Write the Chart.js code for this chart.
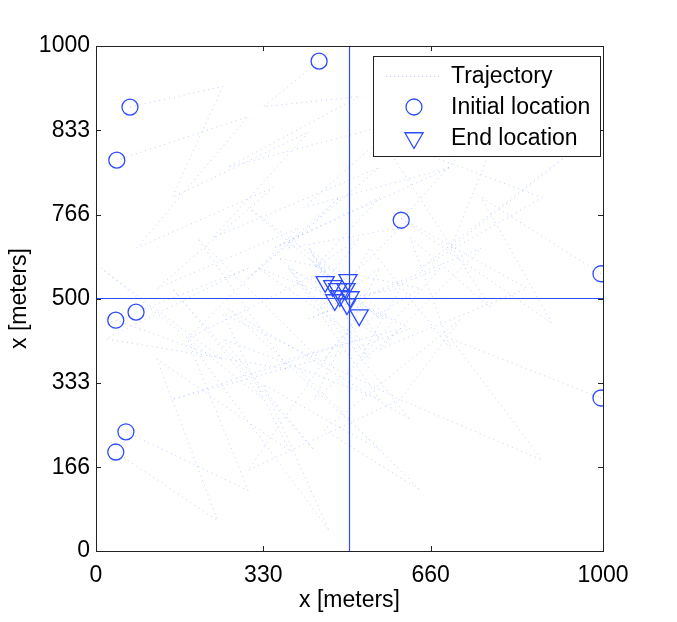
<!DOCTYPE html>
<html>
<head>
<meta charset="utf-8">
<script src="https://cdn.jsdelivr.net/npm/chart.js@4.4.0/dist/chart.umd.min.js"></script>
<style>
  html, body { margin: 0; padding: 0; background: #fff; }
  #wrap { width: 677px; height: 622px; }
</style>
</head>
<body>
<div id="wrap"><canvas id="grafico" width="677" height="622"></canvas></div>
<script>
// Ejes y marcas
const xTickValues = [0, 330, 660, 1000];
const yTickValues = [0, 166, 333, 500, 666, 833, 1000];
const yTickLabels = ['0', '166', '333', '500', '766', '833', '1000'];
const centro = [500, 500];

// Posiciones iniciales (circulos)
const inicialX = [440, 67, 41, 602, 996, 79, 39, 996, 59, 39];
const inicialY = [970, 879, 774, 655, 549, 473, 457, 303, 236, 196];

// Posiciones finales (triangulos)
const finalX = [452, 497, 477, 493, 471, 495, 519, 481, 467, 501];
const finalY = [533, 537, 519, 519, 497, 489, 467, 505, 525, 503];

// Trayectorias (puntos de paso estimados)
const trayX = [
    [440, 330, 520, 260, 600, 410, 700, 350, 560, 430, 520, 452],
    [67, 250, 150, 420, 230, 560, 300, 480, 380, 600, 440, 497],
    [41, 300, 80, 350, 120, 400, 180, 460, 300, 560, 420, 477],
    [602, 820, 700, 950, 640, 880, 560, 780, 620, 700, 540, 493],
    [996, 760, 900, 600, 850, 560, 760, 420, 680, 520, 600, 471],
    [79, 300, 20, 380, 200, 440, 150, 520, 320, 580, 420, 495],
    [39, 250, 10, 330, 150, 430, 250, 560, 380, 620, 450, 519],
    [996, 700, 880, 600, 720, 450, 640, 380, 600, 430, 560, 481],
    [59, 300, 180, 460, 330, 560, 260, 620, 380, 540, 420, 467],
    [39, 240, 120, 380, 250, 600, 300, 480, 640, 360, 560, 501]
];
const trayY = [
    [970, 880, 900, 760, 850, 680, 760, 600, 700, 560, 620, 533],
    [879, 920, 700, 830, 620, 760, 540, 700, 600, 640, 480, 537],
    [774, 860, 600, 720, 520, 640, 420, 560, 680, 460, 580, 519],
    [655, 900, 600, 800, 560, 700, 820, 480, 620, 400, 600, 519],
    [549, 700, 450, 660, 520, 400, 600, 460, 560, 380, 520, 497],
    [473, 560, 420, 360, 620, 380, 300, 420, 560, 460, 600, 489],
    [457, 380, 560, 300, 520, 200, 420, 300, 560, 440, 380, 467],
    [303, 420, 180, 300, 460, 240, 120, 380, 440, 300, 560, 505],
    [236, 120, 420, 40, 330, 200, 480, 260, 560, 380, 600, 525],
    [196, 60, 380, 200, 470, 300, 160, 420, 520, 580, 420, 503]
];

const azul = 'rgb(45,75,255)';
const azulClaro = 'rgba(140,170,255,0.55)';
const fuente = 'Liberation Sans, Arial, sans-serif';
const tam = 23;

function pares(xs, ys) {
    return xs.map(function(x, i){ return { x: x, y: ys[i] }; });
}

const datasets = [];
datasets.push({
    label: 'End location',
    data: pares(finalX, finalY),
    pointStyle: 'triangle',
    rotation: 180,
    pointRadius: 10.5,
    borderColor: azul,
    backgroundColor: 'rgba(0,0,0,0)',
    pointBorderWidth: 1.3,
    showLine: false,
    order: 0
});
datasets.push({
    label: 'Initial location',
    data: pares(inicialX, inicialY),
    pointStyle: 'circle',
    pointRadius: 8,
    borderColor: azul,
    backgroundColor: 'rgba(0,0,0,0)',
    pointBorderWidth: 1.3,
    showLine: false,
    order: 1
});
datasets.push({
    label: 'cruz-v',
    data: [{ x: centro[0], y: 0 }, { x: centro[0], y: 1000 }],
    showLine: true, pointRadius: 0, borderColor: azul, borderWidth: 1.2, order: 2
});
datasets.push({
    label: 'cruz-h',
    data: [{ x: 0, y: centro[1] }, { x: 1000, y: centro[1] }],
    showLine: true, pointRadius: 0, borderColor: azul, borderWidth: 1.2, order: 2
});
for (let i = 0; i < trayX.length; i++) {
    datasets.push({
        label: 'Trajectory',
        data: pares(trayX[i], trayY[i]),
        showLine: true,
        pointRadius: 0,
        borderColor: azulClaro,
        borderWidth: 1,
        borderDash: [1, 4],
        order: 3
    });
}

// Marco, marcas hacia adentro y leyenda al estilo MATLAB
const marcoPlugin = {
    id: 'marco',
    afterDatasetsDraw(chart) {
        const ctx = chart.ctx;
        const a = chart.chartArea;
        const sx = chart.scales.x, sy = chart.scales.y;
        ctx.save();
        ctx.strokeStyle = '#222';
        ctx.lineWidth = 1;
        ctx.strokeRect(Math.round(a.left) + 0.5, Math.round(a.top) + 0.5,
            Math.round(a.right - a.left), Math.round(a.bottom - a.top));
        ctx.beginPath();
        const t = 5;
        xTickValues.forEach(function(v){
            const px = Math.round(sx.getPixelForValue(v)) + 0.5;
            ctx.moveTo(px, a.bottom); ctx.lineTo(px, a.bottom - t);
            ctx.moveTo(px, a.top); ctx.lineTo(px, a.top + t);
        });
        yTickValues.forEach(function(v){
            const py = Math.round(sy.getPixelForValue(v)) + 0.5;
            ctx.moveTo(a.left, py); ctx.lineTo(a.left + t, py);
            ctx.moveTo(a.right, py); ctx.lineTo(a.right - t, py);
        });
        ctx.stroke();

        // leyenda
        const lx = 373, ly = 56, lw = 227, lh = 100;
        ctx.fillStyle = '#fff';
        ctx.fillRect(lx, ly, lw, lh);
        ctx.strokeStyle = '#222';
        ctx.strokeRect(lx + 0.5, ly + 0.5, lw, lh);
        ctx.fillStyle = '#000';
        ctx.font = tam + 'px ' + fuente;
        ctx.textBaseline = 'middle';
        ctx.textAlign = 'left';
        const filas = [76, 107, 138];
        ctx.fillText('Trajectory', 451, filas[0] + 1);
        ctx.fillText('Initial location', 451, filas[1] + 1);
        ctx.fillText('End location', 451, filas[2] + 1);
        ctx.strokeStyle = azulClaro;
        ctx.setLineDash([1, 3]);
        ctx.beginPath();
        ctx.moveTo(386, filas[0] + 0.5); ctx.lineTo(440, filas[0] + 0.5);
        ctx.stroke();
        ctx.setLineDash([]);
        ctx.strokeStyle = azul;
        ctx.fillStyle = 'rgba(0,0,0,0)';
        ctx.lineWidth = 1.3;
        Chart.helpers.drawPoint(ctx, { pointStyle: 'circle', radius: 8, rotation: 0, borderWidth: 1.3 }, 414, filas[1]);
        Chart.helpers.drawPoint(ctx, { pointStyle: 'triangle', radius: 10.5, rotation: 180, borderWidth: 1.3 }, 414, filas[2]);
        ctx.restore();
    }
};

new Chart(document.getElementById('grafico'), {
    type: 'scatter',
    data: { datasets: datasets },
    plugins: [marcoPlugin],
    options: {
        responsive: false,
        animation: false,
        maintainAspectRatio: false,
        layout: { padding: { top: 46, right: 74, left: 0, bottom: 0 } },
        plugins: {
            legend: { display: false },
            tooltip: { enabled: false }
        },
        scales: {
            x: {
                type: 'linear',
                min: 0,
                max: 1000,
                afterBuildTicks: function(scale){
                    scale.ticks = xTickValues.map(function(v){ return { value: v }; });
                },
                afterFit: function(scale){ scale.height = 71; },
                grid: { display: false, drawTicks: false },
                border: { display: false },
                ticks: {
                    color: '#000',
                    font: { family: fuente, size: tam },
                    padding: 11,
                    maxRotation: 0,
                    autoSkip: false,
                    callback: function(value){ return String(value); }
                },
                title: {
                    display: true,
                    text: 'x [meters]',
                    color: '#000',
                    font: { family: fuente, size: tam },
                    padding: { top: 0, bottom: 8 }
                }
            },
            y: {
                type: 'linear',
                min: 0,
                max: 1000,
                afterBuildTicks: function(scale){
                    scale.ticks = yTickValues.map(function(v){ return { value: v }; });
                },
                afterFit: function(scale){ scale.width = 96; },
                grid: { display: false, drawTicks: false },
                border: { display: false },
                ticks: {
                    color: '#000',
                    font: { family: fuente, size: tam },
                    padding: 6,
                    autoSkip: false,
                    callback: function(value, index){ return yTickLabels[index]; }
                },
                title: {
                    display: true,
                    text: 'x [meters]',
                    color: '#000',
                    font: { family: fuente, size: tam },
                    padding: { top: 6, bottom: 0 }
                }
            }
        }
    }
});
</script>
</body>
</html>
